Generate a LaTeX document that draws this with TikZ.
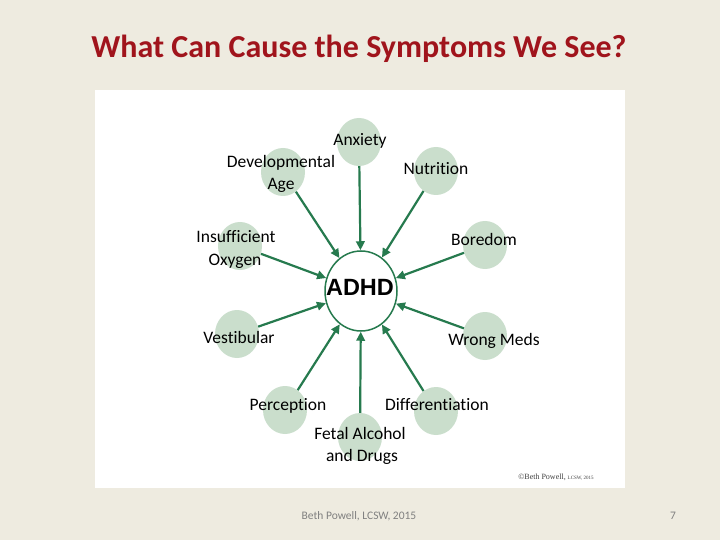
\documentclass[tikz,border=0pt]{standalone}
\usepackage{fontspec}
\setmainfont[Ligatures=NoCommon]{Carlito}
\newfontfamily\arialf{Liberation Sans}
\newfontfamily\serf{Liberation Serif}
\usetikzlibrary{shapes.geometric,arrows.meta}
\definecolor{bgc}{RGB}{238,235,224}
\definecolor{titlec}{RGB}{160,20,28}
\definecolor{arrc}{RGB}{38,122,78}
\definecolor{blobc}{RGB}{202,222,204}
\definecolor{footc}{RGB}{128,128,128}
\tikzset{
  blob/.style={ellipse,fill=blobc,minimum width=44pt,minimum height=48pt,inner sep=0pt},
  lbl/.style={anchor=base,inner sep=0pt,font=\fontsize{17.5}{21}\selectfont},
  arr/.style={draw=arrc,line width=2.2pt,-{Triangle[length=9pt,width=8.5pt]},shorten <=0pt,shorten >=0pt},
}
\begin{document}
\begin{tikzpicture}[x=1pt,y=-1pt]
\useasboundingbox (0,0) rectangle (720,540);
\fill[bgc] (0,0) rectangle (720,540);
\fill[white] (95,90) rectangle (625,488);
\node[anchor=base,inner sep=0pt,text=titlec,font=\fontsize{32}{38}\selectfont\bfseries] (title) at (359,58) {What Can Cause the Symptoms We See?};
% blobs
\node[blob] (anx) at (359,142) {};
\node[blob] (dev) at (283,172) {};
\node[blob] (nut) at (436,171) {};
\node[blob] (oxy) at (240,246) {};
\node[blob] (bor) at (485,245) {};
\node[blob] (ves) at (237,334) {};
\node[blob] (wro) at (485,336) {};
\node[blob] (per) at (285,410) {};
\node[blob] (fet) at (360,437) {};
\node[blob] (dif) at (436,411) {};
% center
\node[ellipse,draw=arrc,line width=1.5pt,fill=white,minimum width=72pt,minimum height=80pt,inner sep=0pt] (adhd) at (361,291) {};
\node[inner sep=0pt,font=\arialf\bfseries\fontsize{23.5}{28}\selectfont] (adhdt) at (360,287.5) {ADHD};
% arrows
\foreach \s in {anx,dev,nut,oxy,bor,ves,wro,per,fet,dif}{
  \draw[arr] (\s) -- (adhd);
}
% labels
\node[lbl] (tanx) at (360,146) {Anxiety};
\node[lbl] (tdev1) at (281,168) {Developmental};
\node[lbl] (tdev2) at (281,190) {Age};
\node[lbl] (tnut) at (436,175) {Nutrition};
\node[lbl] (toxy1) at (236,243) {Insufficient};
\node[lbl] (toxy2) at (235,265) {Oxygen};
\node[lbl] (tbor) at (484,245) {Boredom};
\node[lbl] (tves) at (239,343) {Vestibular};
\node[lbl] (twro) at (494,345) {Wrong Meds};
\node[lbl] (tper) at (288,410) {Perception};
\node[lbl] (tdif) at (437,410) {Differentiation};
\node[lbl] (tfet1) at (360,439) {Fetal Alcohol};
\node[lbl] (tfet2) at (362,461) {and Drugs};
% copyright
\node[anchor=base,inner sep=0pt,text=black!75,font=\serf\fontsize{8}{9}\selectfont] (copy) at (556,479) {©Beth Powell, {\fontsize{5}{6}\selectfont LCSW, 2015}};
% footer
\node[anchor=base,inner sep=0pt,text=footc,font=\fontsize{11.5}{13}\selectfont] (foot) at (359,519) {Beth Powell, LCSW, 2015};
\node[anchor=base,inner sep=0pt,text=footc,font=\fontsize{11.5}{13}\selectfont] (pg) at (673,519) {7};
\end{tikzpicture}
\end{document}
